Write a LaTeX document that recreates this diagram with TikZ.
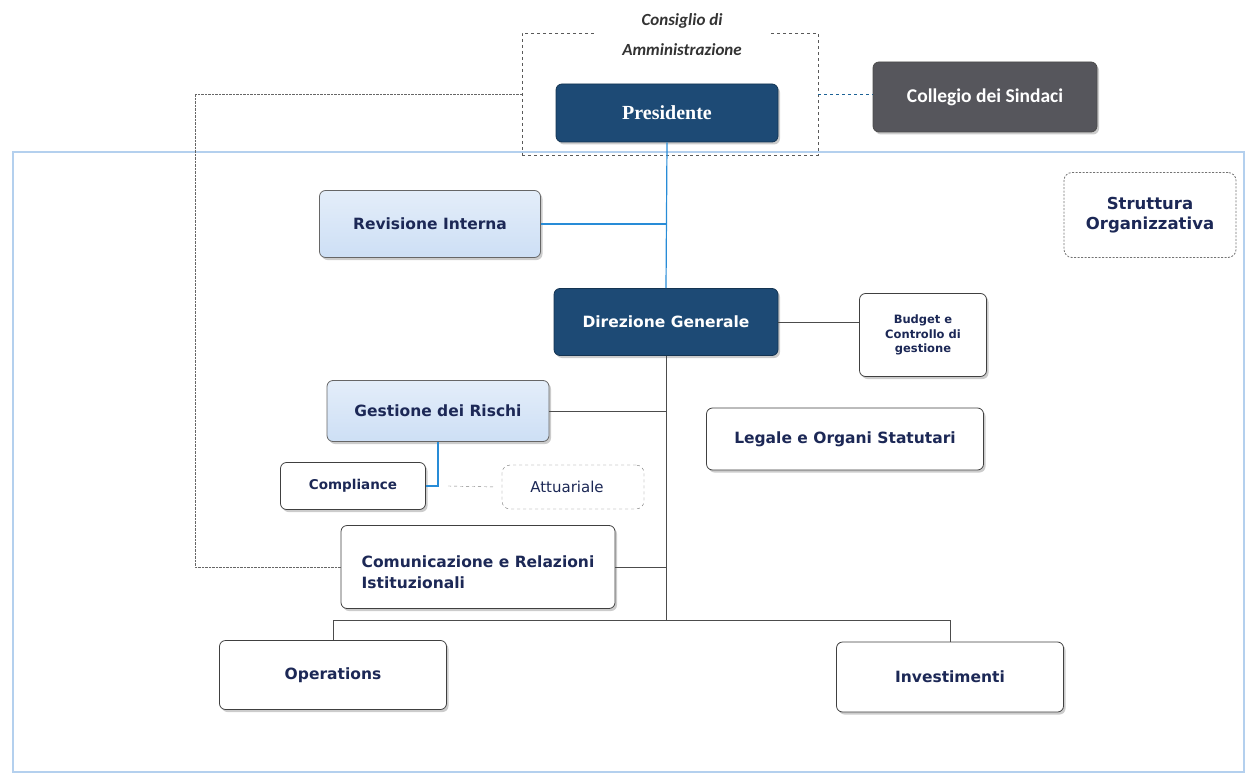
\documentclass[tikz,border=0pt]{standalone}
\usepackage{fontspec}
\setmainfont{DejaVu Sans}
\newfontfamily\calfont{Carlito}
\newfontfamily\serfont{Liberation Serif}
\usetikzlibrary{arrows.meta,positioning,shadows}
\usepackage{xcolor}
\definecolor{orgnavy}{RGB}{29,74,117}
\definecolor{orgink}{RGB}{28,40,86}
\definecolor{orgsky}{RGB}{205,223,245}
\definecolor{orgline}{RGB}{40,140,215}
\definecolor{orgslate}{RGB}{86,86,92}
\definecolor{orgframe}{RGB}{180,208,238}
\tikzset{
    unit/.style={
        draw=#1,thick,rounded corners=6pt,align=center,
        drop shadow={shadow xshift=2pt,shadow yshift=-2.5pt,opacity=.4}
    },
    unit/.default=black!70,
    darkunit/.style={
        unit=orgnavy!70!black,fill=orgnavy,text=white,
        font=\fontsize{15.5}{18}\selectfont\bfseries
    },
    skyunit/.style={
        unit=black!60,top color=orgsky!55,bottom color=orgsky,text=orgink,
        font=\fontsize{15.5}{18}\selectfont\bfseries
    },
    plainunit/.style={
        unit=black!75,fill=white,text=orgink,
        font=\fontsize{15.5}{21}\selectfont\bfseries
    },
    ghostunit/.style={
        draw=black!55,#1,rounded corners=8pt,fill=white,align=center,text=orgink
    },
    ghostunit/.default=dashed,
    link/.style={draw=black!70,thin},
    bluelink/.style={draw=orgline,line width=1.2pt}
}
\begin{document}
\begin{tikzpicture}[x=1pt,y=-1pt]
\useasboundingbox (0,0) rectangle (1246,778);

% cornice della struttura
\node[draw=orgframe,line width=2pt,minimum width=1231pt,minimum height=620pt]
(org) at (628,462) {};

% consiglio di amministrazione
\node[draw=black!65,dashed,thick,minimum width=296pt,minimum height=122pt]
(cda) at (670,94) {};
\node[fill=white,minimum width=176pt,align=center,text=black!80,
font=\calfont\fontsize{17}{30}\selectfont\bfseries\itshape]
(cdatitle) at (682,35) {Consiglio di\\Amministrazione};

\node[darkunit,minimum width=222pt,minimum height=58pt,
font=\serfont\fontsize{20}{22}\selectfont\bfseries]
(pres) at (667,113) {Presidente};

\node[unit=black!70,fill=orgslate,text=white,minimum width=224pt,minimum height=70pt,
font=\calfont\fontsize{19.5}{22}\selectfont\bfseries]
(coll) at (985,97) {Collegio dei Sindaci};

\node[ghostunit={dash pattern=on 2pt off 1.5pt},thick,minimum width=172pt,minimum height=85pt,
font=\fontsize{16.5}{20}\selectfont\bfseries]
(strut) at (1150,215) {Struttura\\Organizzativa};

% primo livello
\node[skyunit,minimum width=221pt,minimum height=67pt]
(rev) at (430,224) {Revisione Interna};

\node[darkunit,minimum width=224pt,minimum height=67pt]
(dir) at (666,322) {Direzione Generale};

\node[plainunit,minimum width=127pt,minimum height=83pt,
font=\fontsize{11.5}{14.5}\selectfont\bfseries]
(bud) at (923,335) {Budget e\\Controllo di\\gestione};

\node[skyunit,minimum width=222pt,minimum height=61pt]
(ges) at (438,411) {Gestione dei Rischi};

\node[plainunit,minimum width=277pt,minimum height=62pt]
(leg) at (845,439) {Legale e Organi Statutari};

\node[plainunit,minimum width=145pt,minimum height=47pt,
font=\fontsize{13.5}{16}\selectfont\bfseries]
(comp) at (353,486) {Compliance};

\node[ghostunit,minimum width=142pt,minimum height=44pt,
font=\fontsize{15}{17}\selectfont]
(att) at (573,487) {Attuariale\hspace*{12pt}};

\node[plainunit,minimum width=274pt,minimum height=83pt,align=left,
text height=43pt]
(comm) at (478,567) {Comunicazione e Relazioni\\Istituzionali};

\node[plainunit,minimum width=227pt,minimum height=69pt]
(ops) at (333,675) {Operations};

\node[plainunit,minimum width=227pt,minimum height=70pt]
(inv) at (950,677) {Investimenti};

% collegamenti
\coordinate (spine) at (666,620);
\coordinate (side) at (195,567);
\coordinate (junc) at (ges.south |- comp.east);

\draw[bluelink] (pres.south) -- (dir.north);
\draw[bluelink] (rev.east) -- (rev.east -| pres.south);
\draw[bluelink] (ges.south) -- (junc) -- (comp.east);
\draw[draw=black!50,dashed] ([xshift=10pt]junc) -- ([xshift=-6pt]att.west);

\draw[link] (dir.south) -- (spine);
\draw[link] (dir.east) -- (dir.east -| bud.west);
\draw[link] (ges.east) -- (ges.east -| spine);
\draw[link] (comm.east) -- (comm.east -| spine);
\draw[link] (ops.north) -- ++(0,-20) -| (inv.north);

\draw[draw=orgline!70!black,dashed] (cda.east) -- (cda.east -| coll.west);
\draw[draw=black!60,densely dotted] (cda.west) -| (side) -- (comm.west);

\end{tikzpicture}
\end{document}
